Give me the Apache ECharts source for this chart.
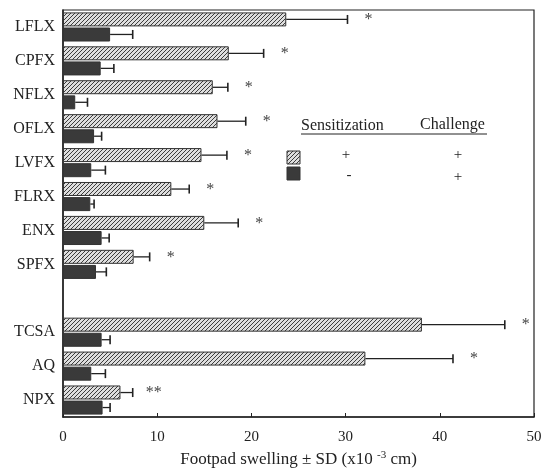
<!DOCTYPE html>
<html>
<head>
<meta charset="utf-8">
<script src="https://cdn.jsdelivr.net/npm/echarts@6/dist/echarts.min.js"></script>
<style>
  html, body { margin: 0; padding: 0; background: #fff; }
  #chart { width: 545px; height: 469px; }
</style>
</head>
<body>
<div id="chart"></div>
<script>
// categories, top to bottom ('' is the blank slot between the groups)
const categories = ['LFLX', 'CPFX', 'NFLX', 'OFLX', 'LVFX', 'FLRX', 'ENX', 'SPFX', '', 'TCSA', 'AQ', 'NPX']
// sensitization +, challenge +
const sensMean = [23.7, 17.6, 15.9, 16.4, 14.7, 11.5, 15.0, 7.5, null, 38.1, 32.1, 6.1]
const sensSD = [6.5, 3.7, 1.6, 3.0, 2.7, 1.9, 3.6, 1.7, null, 8.8, 9.3, 1.3]
// sensitization -, challenge +
const ctrlMean = [5.0, 4.0, 1.3, 3.3, 3.0, 2.9, 4.1, 3.5, null, 4.1, 3.0, 4.2]
const ctrlSD = [2.4, 1.4, 1.3, 0.8, 1.5, 0.4, 0.8, 1.1, null, 0.9, 1.5, 0.8]
const sigMarks = ['*', '*', '*', '*', '*', '*', '*', '*', '', '*', '*', '**']
const xTicks = { min: 0, max: 50, interval: 10 }

const serif = 'Liberation Serif'
const ink = '#222'

// hatch tile for the sensitized bars
const tile = document.createElement('canvas')
tile.width = 4
tile.height = 4
const tc = tile.getContext('2d')
tc.fillStyle = '#dedede'
tc.fillRect(0, 0, 4, 4)
tc.strokeStyle = '#3c3c3c'
tc.lineWidth = 1
tc.beginPath()
tc.moveTo(0, 4); tc.lineTo(4, 0)
tc.moveTo(-1, 1); tc.lineTo(1, -1)
tc.moveTo(3, 5); tc.lineTo(5, 3)
tc.stroke()
const hatch = { image: tile, repeat: 'repeat' }

const barW = 14
const halfOff = 7.5

function errorSeries (mean, sd, offset, marks) {
  return {
    type: 'custom',
    silent: true,
    z: 5,
    data: mean.map((m, i) => [m, i, m == null ? null : m + sd[i]]),
    renderItem: (params, api) => {
      const m = api.value(0)
      if (m == null || isNaN(m)) return
      const i = api.value(1)
      const p0 = api.coord([m, i])
      const p1 = api.coord([api.value(2), i])
      const y = p0[1] + offset
      const children = [
        { type: 'line', shape: { x1: p0[0], y1: y, x2: p1[0], y2: y }, style: { stroke: ink, lineWidth: 1.3 } },
        { type: 'line', shape: { x1: p1[0], y1: y - 4.5, x2: p1[0], y2: y + 4.5 }, style: { stroke: ink, lineWidth: 1.6 } }
      ]
      if (marks && marks[i]) {
        children.push({
          type: 'text',
          style: { text: marks[i], x: p1[0] + 21, y: y + 0.5, align: 'center', verticalAlign: 'middle', font: '16px ' + serif, fill: '#444' }
        })
      }
      return { type: 'group', children }
    }
  }
}

const chart = echarts.init(document.getElementById('chart'))

chart.setOption({
  animation: false,
  grid: { left: 63, right: 11, top: 10, bottom: 52, outerBoundsMode: 'none', containLabel: false, show: true, borderColor: ink, borderWidth: 1.2 },
  xAxis: {
    type: 'value',
    min: xTicks.min,
    max: xTicks.max,
    interval: xTicks.interval,
    axisLine: { show: true, lineStyle: { color: ink, width: 1.5 } },
    axisTick: { show: true, inside: true, length: 4, lineStyle: { color: ink } },
    axisLabel: { color: ink, fontFamily: serif, fontSize: 15, margin: 13 },
    splitLine: { show: false },
    name: '{n|Footpad swelling ± SD (x10 }{s|-3}{n| cm)}',
    nameLocation: 'middle',
    nameGap: 33,
    nameTextStyle: {
      rich: {
        n: { fontFamily: serif, fontSize: 17, color: ink },
        s: { fontFamily: serif, fontSize: 11, color: ink, verticalAlign: 'top', padding: [0, 0, 9, 0] }
      }
    }
  },
  yAxis: {
    type: 'category',
    inverse: true,
    data: categories,
    axisLine: { lineStyle: { color: ink, width: 1.5 } },
    axisTick: { length: 3, lineStyle: { color: ink } },
    axisLabel: { color: ink, fontFamily: serif, fontSize: 16, margin: 8 }
  },
  series: [
    {
      type: 'bar',
      data: sensMean,
      barWidth: barW,
      barGap: '8%',
      itemStyle: { color: hatch, borderColor: '#333', borderWidth: 1 }
    },
    {
      type: 'bar',
      data: ctrlMean,
      barWidth: barW,
      barGap: '8%',
      itemStyle: { color: '#3a3a3a', borderColor: '#333', borderWidth: 1 }
    },
    errorSeries(sensMean, sensSD, -halfOff, sigMarks),
    errorSeries(ctrlMean, ctrlSD, halfOff, null)
  ],
  graphic: [
    { type: 'text', left: 301, top: 118, style: { text: 'Sensitization', font: '16px ' + serif, fill: ink } },
    { type: 'text', left: 420, top: 117, style: { text: 'Challenge', font: '16px ' + serif, fill: ink } },
    { type: 'line', shape: { x1: 301, y1: 134, x2: 487, y2: 134 }, style: { stroke: ink, lineWidth: 1 } },
    { type: 'rect', shape: { x: 287, y: 151, width: 13, height: 13 }, style: { fill: hatch, stroke: '#333', lineWidth: 1 } },
    { type: 'rect', shape: { x: 287, y: 167, width: 13, height: 13 }, style: { fill: '#3a3a3a', stroke: '#333', lineWidth: 1 } },
    { type: 'text', x: 346, y: 155, style: { text: '+', font: '15px ' + serif, fill: ink, align: 'center', verticalAlign: 'middle' } },
    { type: 'text', x: 458, y: 155, style: { text: '+', font: '15px ' + serif, fill: ink, align: 'center', verticalAlign: 'middle' } },
    { type: 'text', x: 349, y: 175, style: { text: '-', font: '15px ' + serif, fill: ink, align: 'center', verticalAlign: 'middle' } },
    { type: 'text', x: 458, y: 177, style: { text: '+', font: '15px ' + serif, fill: ink, align: 'center', verticalAlign: 'middle' } }
  ]
})
</script>
</body>
</html>
